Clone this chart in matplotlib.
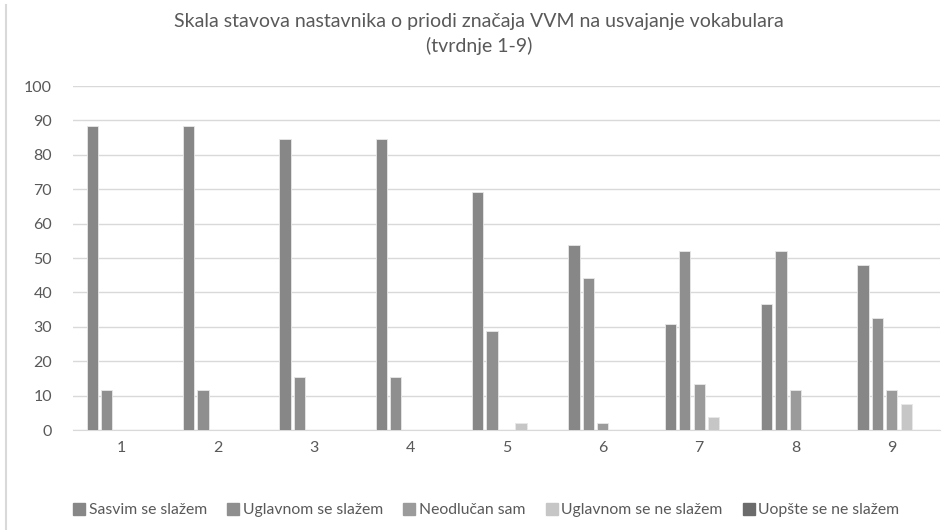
import numpy as np
import matplotlib.pyplot as plt
from matplotlib.lines import Line2D

plt.rcParams['font.family'] = ['Lato', 'DejaVu Sans']

tvrdnje = ['1', '2', '3', '4', '5', '6', '7', '8', '9']
serije = ['Sasvim se slažem', 'Uglavnom se slažem', 'Neodlučan sam',
          'Uglavnom se ne slažem', 'Uopšte se ne slažem']

sasvim = [88.5, 88.5, 84.6, 84.6, 69.2, 53.8, 30.8, 36.5, 48.1]
uglavnom = [11.5, 11.5, 15.4, 15.4, 28.8, 44.2, 51.9, 51.9, 32.7]
neodlucan = [0, 0, 0, 0, 0, 1.9, 13.5, 11.5, 11.5]
uglavnom_ne = [0, 0, 0, 0, 1.9, 0, 3.8, 0, 7.7]
uopste = [0, 0, 0, 0, 0, 0, 0, 0, 0]

boje = ['#878787', '#8f8f8f', '#9b9b9b', '#c6c6c6', '#6b6b6b']
tekst = '#595959'

fig = plt.figure(figsize=(9.53, 5.30), dpi=100)
ax = fig.add_axes([73 / 953, 1 - 430 / 530, (940 - 73) / 953, (430 - 86) / 530])

x = np.arange(1, len(tvrdnje) + 1)
step = 0.15
width = 0.116
sve = [sasvim, uglavnom, neodlucan, uglavnom_ne, uopste]
for j, (vals, boja) in enumerate(zip(sve, boje)):
    ax.bar(x + (j - 2) * step, vals, width, color=boja, edgecolor='#e8e8e8',
           linewidth=0.6, zorder=3)

ax.set_xlim(0.5, 9.5)
ax.set_ylim(0, 100)
ax.set_yticks(range(0, 101, 10))
ax.set_xticks(x, labels=tvrdnje)
ax.grid(axis='y', color='#d9d9d9', linewidth=1, zorder=0)
for s in ['top', 'right', 'left']:
    ax.spines[s].set_visible(False)
ax.spines['bottom'].set_color('#d9d9d9')
ax.tick_params(length=0, labelsize=11.5, colors=tekst)
ax.tick_params(axis='y', pad=15)
ax.tick_params(axis='x', pad=8)

fig.text(0.503, 1 - 22 / 530, 'Skala stavova nastavnika o priodi značaja VVM na usvajanje vokabulara',
         ha='center', va='center', fontsize=14, color=tekst)
fig.text(0.503, 1 - 46 / 530, '(tvrdnje 1-9)', ha='center', va='center', fontsize=14, color=tekst)

handles = [Line2D([], [], marker='s', linestyle='none', markersize=8, color=b) for b in boje]
fig.legend(handles, serije, loc='center', bbox_to_anchor=(0.511, 1 - 510 / 530), ncol=5,
           frameon=False, fontsize=11.3, labelcolor=tekst, handlelength=0.6,
           handletextpad=0.3, columnspacing=1.38)

# tanka linija sa leve strane
fig.add_artist(Line2D([6 / 953, 6 / 953], [0, 1 - 5 / 530], color='#d9d9d9', linewidth=1.5))

fig.savefig('out.png', dpi=100)
